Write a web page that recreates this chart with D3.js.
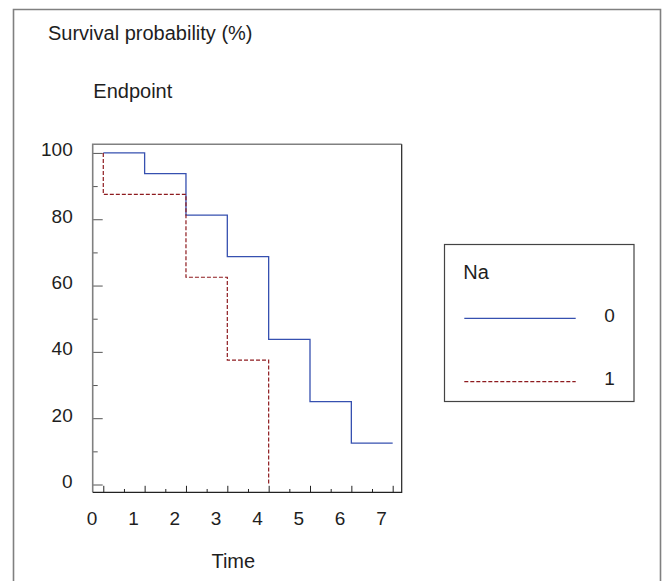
<!DOCTYPE html>
<html>
<head>
<meta charset="utf-8">
<script src="https://cdn.jsdelivr.net/npm/d3@7"></script>
<style>
  html, body { margin: 0; padding: 0; background: #fff; }
  svg text { font-family: "Liberation Sans", Arial, sans-serif; fill: #1e1e1e; }
</style>
</head>
<body>
<svg id="chart" width="662" height="581"></svg>
<script>
// ---- data ----
const timesNa0 = [0, 1, 2, 3, 4, 5, 6, 7];
const survNa0  = [100, 93.75, 81.25, 68.75, 43.75, 25, 12.5, 12.5];
const timesNa1 = [0, 0, 2, 3, 4];
const survNa1  = [100, 87.5, 62.5, 37.5, 0];
const groupLabels = ["0", "1"];
const xTickValues = [0, 1, 2, 3, 4, 5, 6, 7];
const xMinorTicks = [0.5, 1.5, 2.5, 3.5, 4.5, 5.5, 6.5];
const yTickValues = [0, 20, 40, 60, 80, 100];
const yMinorTicks = [10, 30, 50, 70, 90];

const svg = d3.select("#chart");
const W = 662, H = 581;

// outer frame
svg.append("path")
  .attr("d", `M13.5,${H + 2} V9.5 H660.5 V${H + 2}`)
  .attr("fill", "none").attr("stroke", "#808080").attr("stroke-width", 1.6);

// plot area
const frame = {left: 92.7, top: 144.3, right: 401.7, bottom: 492.3};
const x = d3.scaleLinear().domain([-0.256, 7.218]).range([frame.left, frame.right]);
const y = d3.scaleLinear().domain([-2.35, 102.6]).range([frame.bottom, frame.top]);

const g = svg.append("g");

// y ticks (inward)
g.append("g").attr("transform", `translate(${frame.left},0)`)
  .call(d3.axisLeft(y).tickValues(yTickValues).tickSize(-10).tickFormat(""))
  .call(s => s.select(".domain").remove())
  .call(s => s.selectAll("line").attr("stroke", "#555"));
g.append("g").attr("transform", `translate(${frame.left},0)`)
  .call(d3.axisLeft(y).tickValues(yMinorTicks).tickSize(-5).tickFormat(""))
  .call(s => s.select(".domain").remove())
  .call(s => s.selectAll("line").attr("stroke", "#555"));
// y labels
g.append("g").attr("transform", `translate(${frame.left},0)`)
  .call(d3.axisLeft(y).tickValues(yTickValues).tickSize(0).tickPadding(20))
  .call(s => s.select(".domain").remove())
  .call(s => s.selectAll("text").attr("font-size", 19).attr("dy", "0.15em")
      .attr("font-family", "Liberation Sans, Arial, sans-serif").attr("fill", "#1e1e1e"));

// x ticks (inward, upward)
g.append("g").attr("transform", `translate(0,${frame.bottom})`)
  .call(d3.axisBottom(x).tickValues(xTickValues).tickSize(-6.5).tickFormat(""))
  .call(s => s.select(".domain").remove())
  .call(s => s.selectAll("line").attr("stroke", "#222"));
g.append("g").attr("transform", `translate(0,${frame.bottom})`)
  .call(d3.axisBottom(x).tickValues(xMinorTicks).tickSize(-3.3).tickFormat(""))
  .call(s => s.select(".domain").remove())
  .call(s => s.selectAll("line").attr("stroke", "#222"));
// x labels
g.append("g").attr("transform", `translate(0,${frame.bottom})`)
  .call(d3.axisBottom(x).tickValues(xTickValues).tickSize(0).tickPadding(19.2))
  .call(s => s.select(".domain").remove())
  .call(s => s.selectAll("text").attr("font-size", 19).attr("dx", -11.7)
      .attr("font-family", "Liberation Sans, Arial, sans-serif").attr("fill", "#1e1e1e"));

// frame lines: left/top gray, right/bottom dark
g.append("path")
  .attr("d", `M${frame.left},${frame.bottom} V${frame.top} H${frame.right}`)
  .attr("fill", "none").attr("stroke", "#808080").attr("stroke-width", 1.6);
g.append("path")
  .attr("d", `M${frame.left},${frame.bottom} H${frame.right} V${frame.top}`)
  .attr("fill", "none").attr("stroke", "#222").attr("stroke-width", 1.2);

// curves
const line = d3.line().x(d => x(d[0])).y(d => y(d[1])).curve(d3.curveStepAfter);
const colors = ["#3650b0", "#8e1b1f"];
g.append("path")
  .datum(d3.zip(timesNa0, survNa0))
  .attr("d", line).attr("fill", "none")
  .attr("stroke", colors[0]).attr("stroke-width", 1.3);
g.append("path")
  .datum(d3.zip(timesNa1, survNa1))
  .attr("d", line).attr("fill", "none")
  .attr("stroke", colors[1]).attr("stroke-width", 1.2)
  .attr("stroke-dasharray", "4,2");

// titles
svg.append("text").attr("x", 48).attr("y", 40).attr("font-size", 20)
  .text("Survival probability (%)");
svg.append("text").attr("x", 93.3).attr("y", 97.7).attr("font-size", 20)
  .text("Endpoint");
svg.append("text").attr("x", 233.3).attr("y", 568.3).attr("font-size", 20)
  .attr("text-anchor", "middle").text("Time");

// legend
const lg = svg.append("g");
lg.append("rect").attr("x", 444.5).attr("y", 244.5).attr("width", 189.5).attr("height", 157)
  .attr("fill", "#fff").attr("stroke", "#444").attr("stroke-width", 1.2);
lg.append("text").attr("x", 463.3).attr("y", 279.3).attr("font-size", 20).text("Na");
const legY = [318.3, 381.7];
groupLabels.forEach((lab, i) => {
  lg.append("line").attr("x1", 464.3).attr("x2", 575.7)
    .attr("y1", legY[i]).attr("y2", legY[i])
    .attr("stroke", colors[i]).attr("stroke-width", i ? 1.2 : 1.3)
    .attr("stroke-dasharray", i ? "4,2" : null);
  lg.append("text").attr("x", 609.5).attr("y", legY[i] + 3.4)
    .attr("font-size", 19).attr("text-anchor", "middle").text(lab);
});
</script>
</body>
</html>
